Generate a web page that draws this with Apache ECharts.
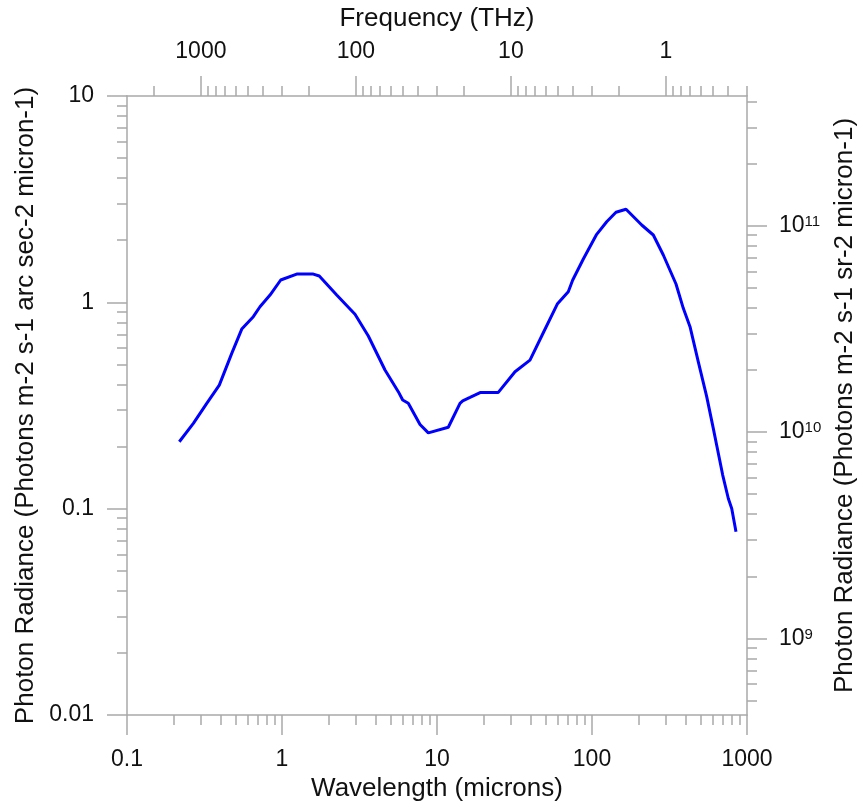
<!DOCTYPE html>
<html><head><meta charset="utf-8">
<script src="https://cdn.jsdelivr.net/npm/echarts@6/dist/echarts.min.js"></script>
<style>html,body{margin:0;padding:0;background:#fff}#c{width:860px;height:805px}</style>
</head><body><div id="c"></div>
<script>
// Wavelength (microns)
const wavelength = [0.2175, 0.268, 0.327, 0.394, 0.474, 0.550, 0.653, 0.721, 0.837, 0.981,
  1.244, 1.592, 1.74, 2.254, 2.958, 3.605, 4.618, 5.627, 6.007, 6.528,
  7.77, 8.79, 11.83, 14.07, 14.65, 16.33, 19.13, 24.86, 31.86, 39.8,
  48.5, 59.7, 70.3, 75.1, 87.9, 107.2, 124.4, 142.8, 165.8, 209.3,
  248.6, 288.4, 348.3, 388.2, 428.9, 485.1, 549.5, 606.1, 637.5, 697,
  757.6, 796.9, 849.2];
// Photon radiance (photons m-2 s-1 arcsec-2 micron-1)
const radiance = [0.211, 0.259, 0.324, 0.397, 0.566, 0.742, 0.852, 0.952, 1.085, 1.283,
  1.371, 1.371, 1.341, 1.085, 0.875, 0.687, 0.470, 0.369, 0.336, 0.324,
  0.256, 0.233, 0.248, 0.324, 0.333, 0.346, 0.366, 0.366, 0.461, 0.525,
  0.712, 0.981, 1.126, 1.283, 1.621, 2.136, 2.459, 2.731, 2.824, 2.37,
  2.12, 1.696, 1.227, 0.935, 0.762, 0.515, 0.349, 0.245, 0.203, 0.1455,
  0.112, 0.1003, 0.0773];

const xMajorTicks = [0.1, 1, 10, 100, 1000];
const xMinorTicks = [0.2,0.3,0.4,0.5,0.6,0.7,0.8,0.9, 2,3,4,5,6,7,8,9, 20,30,40,50,60,70,80,90, 200,300,400,500,600,700,800,900];
const yMajorTicks = [0.01, 0.1, 1, 10];
const yMinorTicks = [0.02,0.03,0.04,0.05,0.06,0.07,0.08,0.09, 0.2,0.3,0.4,0.5,0.6,0.7,0.8,0.9, 2,3,4,5,6,7,8,9];
const freqMajorTicks = [1000, 100, 10, 1];
const freqMinorTicks = [2000, 900,800,700,600,500,400,300,200, 90,80,70,60,50,40,30,20, 9,8,7,6,5,4,3,2, 0.9,0.8,0.7,0.6,0.5,0.4,0.3];
const srMajorTicks = [1e9, 1e10, 1e11];
const srMinorTicks = [5e8,6e8,7e8,8e8,9e8, 2e9,3e9,4e9,5e9,6e9,7e9,8e9,9e9, 2e10,3e10,4e10,5e10,6e10,7e10,8e10,9e10, 2e11,3e11,4e11];

const C_UM_THZ = 299.792458;                       // c in micron*THz
const ARCSEC2_PER_SR = Math.pow(180 * 3600 / Math.PI, 2);
const X_MIN = 0.1, X_MAX = 1000, Y_MIN = 0.01, Y_MAX = 10;

const gray = '#a9a9a9';
const font = '"Liberation Sans", Arial, Helvetica, sans-serif';
const txt = '#111';
const fmt = v => String(Number(v.toPrecision(3)));

function majorAxis(o) {
  return Object.assign({
    splitLine: {show: false},
    axisLine: {show: true, lineStyle: {color: gray, width: 1.5}},
    axisTick: {show: true, inside: false, length: 20, customValues: o.ticks, lineStyle: {color: gray, width: 1.5}},
    axisLabel: {show: true, customValues: o.ticks, color: txt, fontSize: 23, fontFamily: font, margin: 33, formatter: fmt},
    nameTextStyle: {color: txt, fontSize: 26, fontFamily: font},
    nameLocation: 'middle'
  }, o.extra);
}
function minorAxis(o) {
  return Object.assign({
    splitLine: {show: false},
    axisLine: {show: false},
    axisTick: {show: true, inside: false, length: 10, customValues: o.ticks, lineStyle: {color: gray, width: 1.5}},
    axisLabel: {show: false}
  }, o.extra);
}

const chart = echarts.init(document.getElementById('c'), null, {renderer: 'canvas'});
const xAxes = [
  majorAxis({ticks: xMajorTicks, extra: {type: 'log', logBase: 10, min: X_MIN, max: X_MAX, position: 'bottom',
    name: 'Wavelength (microns)', nameGap: 58}}),
  minorAxis({ticks: xMinorTicks, extra: {type: 'log', logBase: 10, min: X_MIN, max: X_MAX, position: 'bottom'}}),
  majorAxis({ticks: freqMajorTicks, extra: {type: 'log', logBase: 10, min: C_UM_THZ / X_MAX, max: C_UM_THZ / X_MIN,
    inverse: true, position: 'top', name: 'Frequency (THz)', nameGap: 64}}),
  minorAxis({ticks: freqMinorTicks, extra: {type: 'log', logBase: 10, min: C_UM_THZ / X_MAX, max: C_UM_THZ / X_MIN,
    inverse: true, position: 'top'}})
];
xAxes[2].axisLabel.formatter = fmt;
const yAxes = [
  majorAxis({ticks: yMajorTicks, extra: {type: 'log', logBase: 10, min: Y_MIN, max: Y_MAX, position: 'left',
    name: 'Photon Radiance (Photons m-2 s-1 arc sec-2 micron-1)', nameGap: 84}}),
  minorAxis({ticks: yMinorTicks, extra: {type: 'log', logBase: 10, min: Y_MIN, max: Y_MAX, position: 'left'}}),
  majorAxis({ticks: srMajorTicks, extra: {type: 'log', logBase: 10, min: Y_MIN * ARCSEC2_PER_SR, max: Y_MAX * ARCSEC2_PER_SR,
    position: 'right', name: 'Photon Radiance (Photons m-2 s-1 sr-2 micron-1)', nameGap: 84, nameRotate: 90}}),
  minorAxis({ticks: srMinorTicks, extra: {type: 'log', logBase: 10, min: Y_MIN * ARCSEC2_PER_SR, max: Y_MAX * ARCSEC2_PER_SR, position: 'right'}})
];
yAxes[2].axisLabel.margin = 32;
yAxes[2].axisLabel.formatter = v => '{b|10}{s|' + Math.round(Math.log10(v)) + '}';
yAxes[2].axisLabel.rich = {
  b: {fontSize: 23, color: txt, fontFamily: font},
  s: {fontSize: 15, color: txt, fontFamily: font, verticalAlign: 'top'}
};

chart.setOption({
  backgroundColor: '#ffffff',
  animation: false,
  grid: {left: 127, right: 113, top: 96, bottom: 90, containLabel: false, outerBoundsMode: 'none'},
  xAxis: xAxes,
  yAxis: yAxes,
  series: [{
    type: 'line',
    xAxisIndex: 0,
    yAxisIndex: 0,
    data: wavelength.map((w, i) => [w, radiance[i]]),
    showSymbol: false,
    symbol: 'none',
    smooth: false,
    lineStyle: {color: '#0000ff', width: 3},
    itemStyle: {color: '#0000ff'}
  }]
});
</script>
</body></html>
